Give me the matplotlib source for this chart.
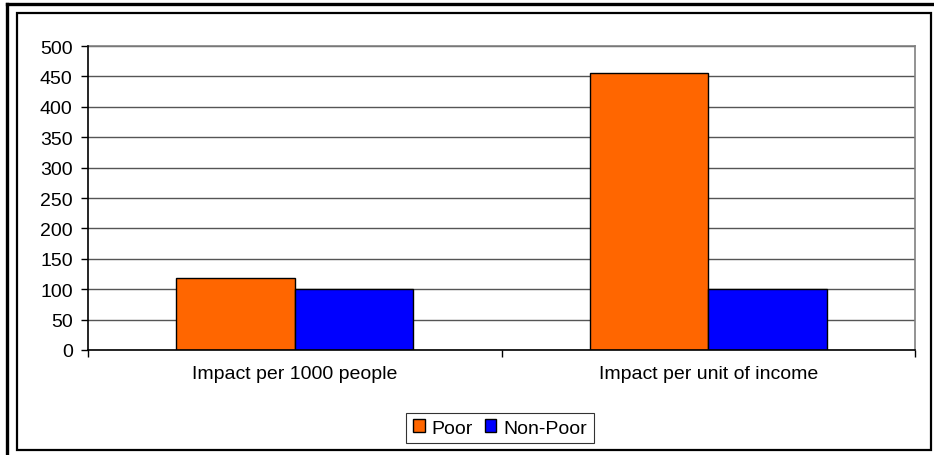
import matplotlib
matplotlib.use("Agg")
import matplotlib.pyplot as plt
from matplotlib.patches import Rectangle
from matplotlib.lines import Line2D
import numpy as np

categories = ["Impact per 1000 people", "Impact per unit of income"]
series_names = ["Poor", "Non-Poor"]
poor = [118, 455]
non_poor = [100, 100]
y_ticks = [0, 50, 100, 150, 200, 250, 300, 350, 400, 450, 500]

colors = ["#FF6600", "#0000FF"]

plt.rcParams["font.family"] = ["Liberation Sans", "DejaVu Sans"]
W, H = 934, 456
fig = plt.figure(figsize=(W / 100, H / 100), dpi=100)

def fx(px):
    return px / W

def fy(py):
    return 1 - py / H

ax = fig.add_axes([fx(88), fy(351), fx(915) - fx(88), fy(47) - fy(351)])

x = np.arange(len(categories))
width = 0.287
bars_poor = ax.bar(x - width / 2, poor, width, color=colors[0], edgecolor="black",
                   linewidth=1.0, label=series_names[0], zorder=3)
bars_np = ax.bar(x + width / 2, non_poor, width, color=colors[1], edgecolor="black",
                 linewidth=1.0, label=series_names[1], zorder=3)

ax.set_xlim(-0.5, len(categories) - 0.5)
ax.set_ylim(0, 500)
ax.set_yticks(y_ticks)
ax.set_yticklabels([str(v) for v in y_ticks], fontsize=14)

# category labels centred, tick marks on category boundaries
ax.set_xticks(x)
ax.set_xticklabels(categories, fontsize=14)
ax.tick_params(axis="x", which="major", length=0, pad=11)
ax.set_xticks(np.arange(-0.5, len(categories), 1.0), minor=True)
ax.tick_params(axis="x", which="minor", length=5, width=1, color="black", direction="out")
ax.tick_params(axis="y", length=5, width=1, color="black", direction="out", pad=6)

ax.yaxis.grid(True, color="#555555", linewidth=1.0, zorder=0)
ax.set_axisbelow(True)

for side in ["left", "bottom"]:
    ax.spines[side].set_color("black")
    ax.spines[side].set_linewidth(1.2)
    ax.spines[side].set_zorder(4)
for side in ["top", "right"]:
    ax.spines[side].set_color("#808080")
    ax.spines[side].set_linewidth(1.2)

# chart frame
fig.add_artist(Rectangle((fx(17), fy(451)), fx(931) - fx(17), fy(14) - fy(451),
                         transform=fig.transFigure, fill=False, edgecolor="black",
                         linewidth=1.6))
fig.add_artist(Line2D([fx(7), fx(934)], [fy(5), fy(5)], transform=fig.transFigure,
                      color="black", linewidth=2.4))
fig.add_artist(Line2D([fx(7), fx(7)], [fy(5), fy(456)], transform=fig.transFigure,
                      color="black", linewidth=2.4))

leg = fig.legend(handles=[bars_poor, bars_np], labels=series_names, loc="center",
                 bbox_to_anchor=(fx(500), fy(429)), ncol=2, fontsize=14,
                 frameon=True, fancybox=False, edgecolor="black",
                 handlelength=0.6, handleheight=0.6, handletextpad=0.35,
                 columnspacing=0.6, borderpad=0.35, borderaxespad=0)
leg.get_frame().set_linewidth(0.8)

fig.savefig("out.png", dpi=100)
